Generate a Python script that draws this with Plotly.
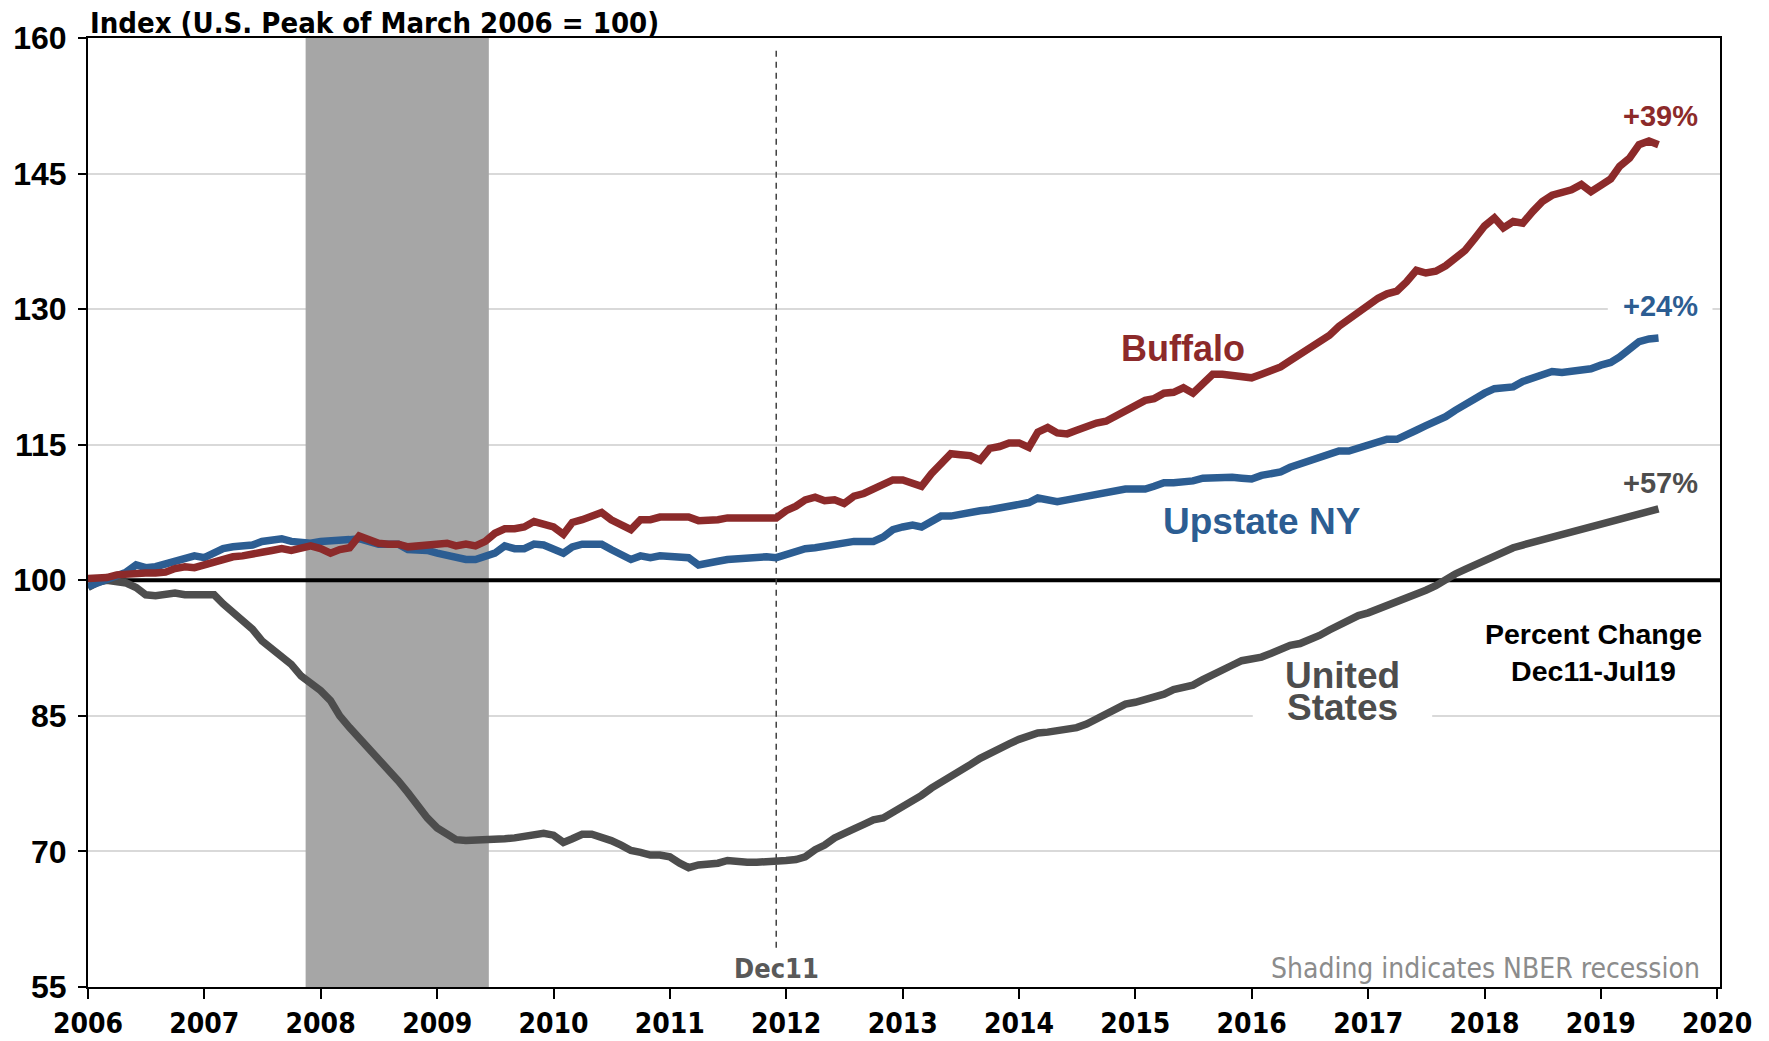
import pandas as pd
import plotly.graph_objects as go

# ---------------- data (monthly, Jan 2006 - Jul 2019) ----------------
months = pd.date_range("2006-01-01", "2019-07-01", freq="MS")

buffalo = [
    100.2, 100.2, 100.3, 100.6, 100.7, 100.9, 100.8, 100.8, 100.9, 101.3, 101.5, 101.4,
    101.7, 102.0, 102.4, 102.6, 102.7, 102.8, 103.1, 103.3, 103.5, 103.3, 103.6, 103.8,
    103.5, 103.0, 103.4, 103.6, 104.9, 104.4, 104.1, 104.0, 104.0, 103.7, 103.8, 103.9,
    104.1, 104.1, 103.8, 104.0, 103.8, 104.3, 105.2, 105.7, 105.7, 105.9, 106.5, 106.1,
    105.9, 105.1, 106.4, 106.7, 107.2, 107.5, 106.7, 106.1, 105.6, 106.7, 106.7, 107.0,
    107.0, 107.1, 107.0, 106.6, 106.6, 106.7, 106.9, 106.9, 106.9, 107.1, 107.1, 106.9,
    107.7, 108.2, 108.9, 109.2, 108.8, 108.9, 108.5, 109.3, 109.6, 110.1, 110.5, 111.1,
    111.1, 110.8, 110.4, 111.8, 113.0, 114.0, 113.9, 113.8, 113.3, 114.6, 114.8, 115.2,
    115.2, 114.7, 116.4, 116.9, 116.3, 116.2, 116.6, 117.1, 117.4, 117.6, 118.2, 118.6,
    119.4, 119.9, 120.1, 120.7, 120.8, 121.3, 120.7, 121.9, 122.8, 122.8, 122.7, 122.6,
    122.4, 122.8, 123.2, 123.6, 124.3, 125.0, 125.8, 126.6, 127.1, 128.1, 128.9, 129.5,
    130.3, 131.2, 131.7, 132.0, 133.0, 134.3, 134.0, 134.2, 134.8, 135.6, 136.5, 137.8,
    139.2, 140.1, 139.0, 139.7, 139.5, 140.8, 141.9, 142.6, 142.8, 143.2, 143.8, 143.0,
    143.7, 144.4, 145.8, 146.7, 148.2, 148.6, 148.2,
]

upstate = [
    99.3, 99.7, 100.0, 100.6, 100.9, 101.7, 101.4, 101.5, 101.8, 102.1, 102.3, 102.7,
    102.5, 103.1, 103.5, 103.7, 103.8, 103.9, 104.3, 104.4, 104.6, 104.3, 104.1, 104.1,
    104.3, 104.3, 104.5, 104.5, 104.6, 104.3, 104.0, 104.0, 104.0, 103.4, 103.4, 103.3,
    103.0, 102.7, 102.5, 102.3, 102.3, 102.6, 103.0, 103.8, 103.5, 103.5, 104.0, 103.9,
    103.5, 103.0, 103.7, 104.0, 104.0, 104.0, 103.4, 102.8, 102.3, 102.7, 102.5, 102.7,
    102.7, 102.7, 102.5, 101.7, 102.0, 102.1, 102.3, 102.4, 102.6, 102.7, 102.6, 102.5,
    102.9, 103.3, 103.5, 103.6, 103.8, 104.1, 104.1, 104.3, 104.3, 104.3, 104.8, 105.6,
    105.9, 106.1, 105.9, 106.5, 107.1, 107.1, 107.3, 107.7, 107.7, 107.8, 108.0, 108.1,
    108.3, 108.6, 109.1, 108.9, 108.7, 108.9, 109.1, 109.1, 109.4, 109.7, 109.9, 110.1,
    110.1, 110.1, 110.4, 110.8, 110.8, 110.8, 111.0, 111.3, 111.4, 111.4, 111.4, 111.3,
    111.2, 111.6, 111.8, 112.0, 112.5, 112.9, 113.3, 113.6, 113.9, 114.3, 114.3, 114.6,
    115.0, 115.4, 115.6, 115.6, 116.0, 116.6, 117.1, 117.5, 118.1, 118.8, 119.5, 120.1,
    120.7, 121.2, 121.3, 121.4, 122.0, 122.4, 122.9, 123.1, 123.0, 123.1, 123.3, 123.4,
    123.8, 124.1, 124.7, 125.7, 126.4, 126.7, 126.8,
]

united_states = [
    99.2, 99.8, 100.0, 99.9, 99.7, 99.2, 98.4, 98.3, 98.4, 98.6, 98.4, 98.4,
    98.4, 98.4, 97.4, 96.5, 95.4, 94.6, 93.3, 92.4, 91.7, 90.7, 89.4, 88.7,
    87.8, 86.7, 85.0, 83.7, 82.6, 81.3, 80.2, 79.1, 77.8, 76.5, 75.0, 73.7,
    72.6, 71.9, 71.3, 71.2, 71.2, 71.3, 71.4, 71.4, 71.5, 71.7, 72.0, 72.0,
    71.8, 71.0, 71.4, 71.9, 71.9, 71.6, 71.2, 70.7, 70.1, 69.9, 69.6, 69.6,
    69.4, 68.7, 68.2, 68.5, 68.5, 68.7, 69.0, 68.8, 68.8, 68.8, 68.8, 68.8,
    69.0, 69.1, 69.4, 70.2, 70.7, 71.5, 72.1, 72.5, 73.0, 73.5, 73.7, 74.3,
    75.0, 75.6, 76.2, 77.0, 77.6, 78.2, 78.9, 79.6, 80.3, 80.9, 81.4, 81.9,
    82.4, 82.8, 83.1, 83.2, 83.3, 83.5, 83.7, 84.1, 84.7, 85.3, 85.8, 86.3,
    86.5, 86.8, 87.1, 87.4, 87.9, 88.2, 88.4, 89.0, 89.6, 90.1, 90.6, 91.1,
    91.2, 91.5, 91.9, 92.4, 92.8, 93.0, 93.4, 93.9, 94.5, 95.1, 95.7, 96.1,
    96.4, 96.8, 97.3, 97.7, 98.1, 98.5, 98.9, 99.4, 100.1, 100.7, 101.2, 101.7,
    102.2, 102.6, 103.2, 103.6, 103.9, 104.2, 104.3, 104.6, 105.0, 105.4, 105.6, 105.8,
    106.1, 106.5, 106.7, 107.0, 107.3, 107.7, 107.9,
]

year_ticks = list(range(2006, 2021))
y_ticks = [55, 70, 85, 100, 115, 130, 145, 160]
pct_labels = ["+39%", "+24%", "+57%"]
recession = ("2007-11-15", "2009-06-12")
ref_month = "2011-12-01"

# ---------------- styles ----------------
RED = "#8c2a2a"
BLUE = "#2c5d92"
GRAY = "#4d4d4d"
NARROW = "Liberation Sans Narrow, Arial Narrow, DejaVu Sans Condensed, sans-serif"
WIDE = "Liberation Sans, Arial, sans-serif"


def yr(d):
    """decimal year -> timestamp"""
    y = int(d)
    start = pd.Timestamp(year=y, month=1, day=1)
    end = pd.Timestamp(year=y + 1, month=1, day=1)
    return start + (end - start) * (d - y)


fig = go.Figure()

for name, vals, col in [("United States", united_states, GRAY),
                        ("Upstate NY", upstate, BLUE),
                        ("Buffalo", buffalo, RED)]:
    fig.add_trace(go.Scatter(x=months, y=vals, mode="lines", name=name,
                             line=dict(color=col, width=7.5, shape="linear"),
                             showlegend=False, hoverinfo="skip"))

# recession shading, 100 line, Dec11 dashed line, label knock-outs in the grid
fig.add_shape(type="rect", xref="x", yref="y", x0=recession[0], x1=recession[1],
              y0=55, y1=160, fillcolor="#a6a6a6", line_width=0, layer="between")
fig.add_shape(type="rect", xref="x", yref="y", x0=yr(2016.01), x1=yr(2017.55),
              y0=83.5, y1=86.5, fillcolor="white", line_width=0, layer="between")
fig.add_shape(type="rect", xref="x", yref="y", x0=yr(2019.06), x1=yr(2019.96),
              y0=128.5, y1=131.5, fillcolor="white", line_width=0, layer="between")
fig.add_shape(type="line", xref="x", yref="y", x0=months[0], x1=yr(2020.03),
              y0=100, y1=100, line=dict(color="black", width=4), layer="between")
fig.add_shape(type="line", xref="x", yref="y", x0=ref_month, x1=ref_month,
              y0=158.6, y1=59.3, line=dict(color="#404040", width=1.5, dash="6px,5px"),
              layer="between")

ann = []
ann.append(dict(xref="paper", yref="paper", x=0, y=1, xanchor="left", yanchor="bottom",
                text="<b>Index (U.S. Peak of March 2006 = 100)</b>", showarrow=False,
                font=dict(family=NARROW, size=29, color="black"), yshift=-4))
ann.append(dict(x=yr(2015.41), y=125.7, text="<b>Buffalo</b>", showarrow=False,
                font=dict(family=WIDE, size=36, color=RED)))
ann.append(dict(x=yr(2016.09), y=106.5, text="<b>Upstate NY</b>", showarrow=False,
                font=dict(family=WIDE, size=37, color=BLUE)))
ann.append(dict(x=yr(2016.78), y=89.5, text="<b>United</b>", showarrow=False,
                height=31, borderpad=0, valign="middle",
                font=dict(family=WIDE, size=37, color=GRAY)))
ann.append(dict(x=yr(2016.78), y=85.9, text="<b>States</b>", showarrow=False,
                height=31, borderpad=0, valign="middle",
                font=dict(family=WIDE, size=37, color=GRAY)))
for txt, yv, col in zip(pct_labels, [151.4, 130.3, 110.8], [RED, BLUE, GRAY]):
    ann.append(dict(x=yr(2019.51), y=yv, text=f"<b>{txt}</b>", showarrow=False,
                    font=dict(family=WIDE, size=29, color=col)))
ann.append(dict(x=yr(2018.94), y=92.0, text="<b>Percent Change<br>Dec11-Jul19</b>",
                showarrow=False, font=dict(family=WIDE, size=28.5, color="black")))
ann.append(dict(x=ref_month, y=57.1, text="<b>Dec11</b>", showarrow=False,
                font=dict(family=NARROW, size=27, color="#595959")))
ann.append(dict(x=yr(2019.87), y=57.1, xanchor="right", text="Shading indicates NBER recession",
                showarrow=False, font=dict(family=NARROW, size=28, color="#8c8c8c")))

fig.update_layout(
    width=1769, height=1041,
    margin=dict(l=88, r=49, t=38, b=54, pad=0),
    paper_bgcolor="white", plot_bgcolor="white",
    annotations=ann,
    showlegend=False,
)
fig.update_xaxes(
    type="date", range=["2006-01-01", "2020-01-10"],
    tickvals=[f"{y}-01-01" for y in year_ticks], ticktext=[str(y) for y in year_ticks],
    ticks="outside", ticklen=10, tickwidth=1.5, tickcolor="black",
    showline=True, linecolor="black", linewidth=2, mirror=True,
    showgrid=False, zeroline=False, automargin=False,
    tickfont=dict(family=NARROW, size=28, color="black", weight="bold"),
)
fig.update_yaxes(
    range=[55, 160], tickvals=y_ticks, ticktext=[str(v) for v in y_ticks],
    ticks="outside", ticklen=8, tickwidth=1.5, tickcolor="black",
    showline=True, linecolor="black", linewidth=2, mirror=True,
    showgrid=True, gridcolor="#d9d9d9", gridwidth=1.5, zeroline=False, automargin=False,
    ticklabelstandoff=5,
    tickfont=dict(family=WIDE, size=32, color="black", weight="bold"),
)

fig.write_html("out.html",
               config={"displayModeBar": False},
               post_script="document.body.style.margin='0px';"
                           "document.body.style.overflow='hidden';")
